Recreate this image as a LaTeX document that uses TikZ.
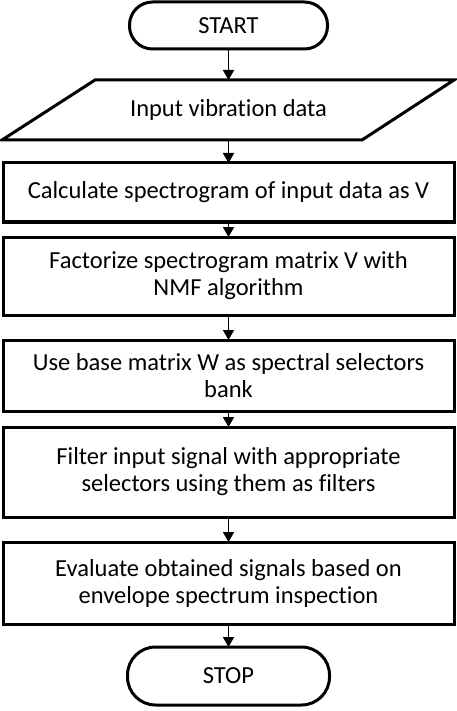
\documentclass[tikz,border=0pt]{standalone}
\usepackage{fontspec}
\setmainfont[Ligatures={NoCommon}]{Carlito}
\usetikzlibrary{arrows.meta}
\begin{document}
\begin{tikzpicture}[x=1pt,y=-1pt,
  every node/.style={font=\fontsize{24.5}{27}\selectfont, align=center, inner sep=0pt, outer sep=0pt},
  stepbox/.style={draw, line width=3pt, minimum width=451pt},
  term/.style={draw, line width=3pt, rounded corners=23pt},
  conn/.style={line width=1.8pt, -{Triangle[length=10pt,width=11pt]}}]
\useasboundingbox (0,0) rectangle (457,711);
\node[term, minimum width=198pt, minimum height=47pt] (start) at (228.5,25.5) {START};
\draw[line width=3pt, line join=miter] (95,80) -- (454,80) -- (362,140) -- (2,140) -- cycle;
\node[minimum width=260pt, minimum height=60pt] (inp) at (228.5,110) {Input vibration data};
\node[stepbox, minimum height=59pt] (b1) at (228.5,192.5) {Calculate spectrogram of input data as V};
\node[stepbox, minimum height=78pt] (b2) at (228.5,276) {Factorize spectrogram matrix V with\\NMF algorithm};
\node[stepbox, minimum height=71pt] (b3) at (228.5,375.5) {Use base matrix W as spectral selectors\\bank};
\node[stepbox, minimum height=90pt] (b4) at (228.5,472) {Filter input signal with appropriate\\selectors using them as filters};
\node[stepbox, minimum height=82pt] (b5) at (228.5,583) {Evaluate obtained signals based on\\envelope spectrum inspection};
\node[term, minimum width=202pt, minimum height=58pt, rounded corners=28pt] (stop) at (228.5,676) {STOP};
\draw[conn] (start) -- (inp);
\draw[conn] (inp) -- (b1);
\draw[conn] (b1) -- (b2);
\draw[conn] (b2) -- (b3);
\draw[conn] (b3) -- (b4);
\draw[conn] (b4) -- (b5);
\draw[conn] (b5) -- (stop);
\end{tikzpicture}
\end{document}
